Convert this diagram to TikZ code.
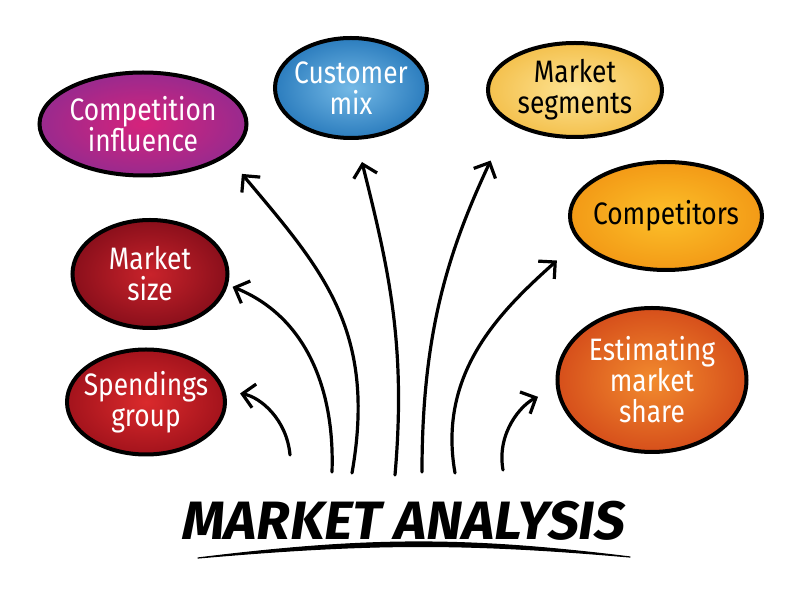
\documentclass[tikz,border=0pt]{standalone}
\usepackage{fontspec}
\setmainfont[FakeStretch=0.85]{Fira Sans}
\newfontfamily\titlefont[FakeSlant=0.15]{Fira Sans}
\usetikzlibrary{shapes.geometric, arrows.meta}

\definecolor{inflIn}{HTML}{D6237B}
\definecolor{inflOut}{HTML}{992A8E}
\definecolor{mixIn}{HTML}{74B9E6}
\definecolor{mixOut}{HTML}{2C7DBE}
\definecolor{segIn}{HTML}{FDE394}
\definecolor{segOut}{HTML}{F4C14E}
\definecolor{compIn}{HTML}{FCC02A}
\definecolor{compOut}{HTML}{F39A16}
\definecolor{sizeIn}{HTML}{C9232B}
\definecolor{sizeOut}{HTML}{8A0F1B}
\definecolor{spendIn}{HTML}{DA2A2C}
\definecolor{spendOut}{HTML}{A3131C}
\definecolor{shareIn}{HTML}{F28B2E}
\definecolor{shareOut}{HTML}{D64F1B}

\begin{document}
\begin{tikzpicture}[x=0.5pt, y=0.5pt,
	bubble/.style={ellipse, draw=black, line width=2pt, inner sep=-8pt, align=center,
		font=\fontsize{15.5}{15.5}\selectfont},
	pointer/.style={line width=1.6pt, line cap=round, -{Straight Barb[length=6pt, width=12pt]}}]

	\useasboundingbox (0,0) rectangle (800,600);

	% Bubbles
	\node[bubble, minimum width=103.5pt, minimum height=51.5pt, inner color=inflIn, outer color=inflOut, text=white]
		(infl) at (143,476) {Competition\\influence};
	\node[bubble, minimum width=76pt, minimum height=50pt, inner color=mixIn, outer color=mixOut, text=white]
		(mix) at (351,512) {Customer\\mix};
	\node[bubble, minimum width=87pt, minimum height=47pt, inner color=segIn, outer color=segOut, text=black]
		(seg) at (575,510) {Market\\segments};
	\node[bubble, minimum width=96pt, minimum height=54pt, inner color=compIn, outer color=compOut, text=black]
		(comp) at (666,384) {Competitors};
	\node[bubble, minimum width=77.5pt, minimum height=54pt, inner color=sizeIn, outer color=sizeOut, text=white]
		(size) at (150,326) {Market\\size};
	\node[bubble, minimum width=79pt, minimum height=52.5pt, inner color=spendIn, outer color=spendOut, text=white]
		(spend) at (146,198) {Spendings\\group};
	\node[bubble, minimum width=94.5pt, minimum height=72pt, inner color=shareIn, outer color=shareOut, text=white]
		(share) at (652,220) {Estimating\\market\\share};

	% Title
	\node[font=\titlefont\bfseries\fontsize{27}{30}\selectfont] (title) at (402,79) {MARKET ANALYSIS};
	\coordinate (lineL) at (198,42);
	\coordinate (lineR) at (630,43);
	\fill[draw=black, line width=0.6pt, line join=round] (lineL) to[out=7, in=173] (lineR) to[out=175, in=5] (lineL) -- cycle;

	% Arrow feet
	\coordinate (s1) at (352,127);
	\coordinate (s2) at (395,125);
	\coordinate (s3) at (422,128);
	\coordinate (s4) at (455,127);
	\coordinate (s5) at (332,128);
	\coordinate (s6) at (290,145);
	\coordinate (s7) at (503,130);

	% Arrows
	\draw[pointer, shorten >=11.5pt] (s1) to[out=80, in=-50, looseness=1.1] (infl.-21.6);
	\draw[pointer, shorten >=11.4pt] (s2) to[out=85, in=-76] (mix.-84.3);
	\draw[pointer, shorten >=21pt] (s3) to[out=90, in=-115] (seg.206.9);
	\draw[pointer, shorten >=14.5pt] (s4) to[out=100, in=-138] (comp.196.6);
	\draw[pointer, shorten >=2.5pt] (s5) to[out=88, in=-22] (size.-8.6);
	\draw[pointer, shorten >=7.5pt] (s6) to[out=95, in=-10] (spend.8.9);
	\draw[pointer, shorten >=10pt] (s7) to[out=100, in=-155] (share.185.2);

\end{tikzpicture}
\end{document}
